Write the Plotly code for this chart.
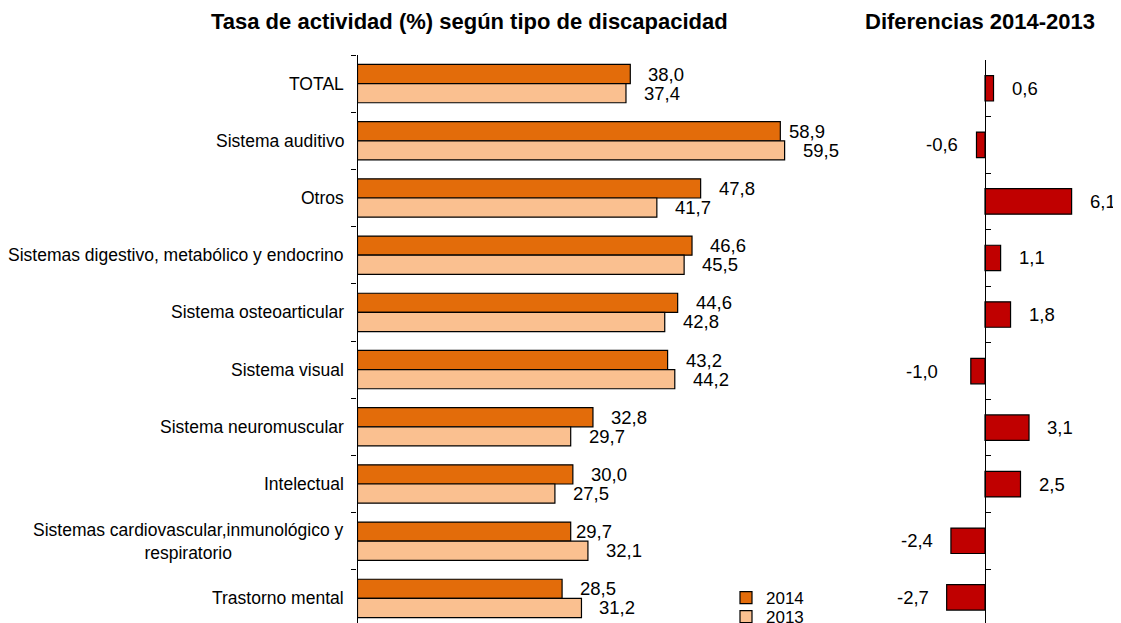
import plotly.graph_objects as go

# ---------- datos ----------
categorias = [
    "TOTAL",
    "Sistema auditivo",
    "Otros",
    "Sistemas digestivo, metabólico y endocrino",
    "Sistema osteoarticular",
    "Sistema visual",
    "Sistema neuromuscular",
    "Intelectual",
    "Sistemas cardiovascular,inmunológico y<br>respiratorio",
    "Trastorno mental",
]
tasa_2014 = [38.0, 58.9, 47.8, 46.6, 44.6, 43.2, 32.8, 30.0, 29.7, 28.5]
tasa_2013 = [37.4, 59.5, 41.7, 45.5, 42.8, 44.2, 29.7, 27.5, 32.1, 31.2]
diferencia = [0.6, -0.6, 6.1, 1.1, 1.8, -1.0, 3.1, 2.5, -2.4, -2.7]

# ---------- estilo ----------
COLORS = {
    'c2014': '#E36C0A',
    'c2013': '#FAC090',
    'dif': '#C00000',
    'line': '#000000',
    'text': '#000000',
}
FONT = 'Liberation Sans, Arial, sans-serif'

# la pagina tiene 8 px de margen en el body: se trabaja en pixeles de pagina
OFF = 8
W, H = 1121 - OFF, 623 - OFF


def px(x):
    return (x - OFF) / W


def py(y):
    return 1 - (y - OFF) / H


ROW_L = 57.2        # alto de cada categoria, panel izquierdo
ROW_R = 56.56       # alto de cada categoria, panel derecho
BARGAP = 0.33
SUB = (1 - BARGAP) / 4 * ROW_L   # desplazamiento vertical de cada barra del grupo

# separacion (px) de cada etiqueta respecto al final de la barra
LABEL_GAP = 16
LABEL_GAP_EXTRA = {(1, '2014'): 7, (8, '2014'): 3}
DIF_GAP = 16
DIF_GAP_EXTRA = {5: 31}

fig = go.Figure()

fig.add_trace(go.Bar(
    y=categorias, x=tasa_2014, orientation='h', name='2014', legend='legend',
    marker=dict(color=COLORS['c2014'], line=dict(color=COLORS['line'], width=1.2)),
    cliponaxis=False, xaxis='x', yaxis='y',
))
fig.add_trace(go.Bar(
    y=categorias, x=tasa_2013, orientation='h', name='2013', legend='legend2',
    marker=dict(color=COLORS['c2013'], line=dict(color=COLORS['line'], width=1.2)),
    cliponaxis=False, xaxis='x', yaxis='y',
))
fig.add_trace(go.Bar(
    y=categorias, x=diferencia, orientation='h', name='Diferencia',
    width=0.45, showlegend=False,
    marker=dict(color=COLORS['dif'], line=dict(color=COLORS['line'], width=1.2)),
    cliponaxis=False, xaxis='x2', yaxis='y2',
))

annotations = []
# etiquetas de categorias
for cat in categorias:
    annotations.append(dict(
        x=px(357.5), xref='paper', y=cat, yref='y',
        text=cat, showarrow=False, xanchor='right', yanchor='middle',
        xshift=-12, align='center',
        font=dict(size=17.5, color=COLORS['text'], family=FONT),
    ))
# valores de las barras 2014 / 2013
for i, cat in enumerate(categorias):
    for serie, vals, dy in (('2014', tasa_2014, SUB), ('2013', tasa_2013, -SUB)):
        annotations.append(dict(
            x=vals[i], xref='x', y=cat, yref='y',
            text=f"{vals[i]:.1f}".replace('.', ','), showarrow=False,
            xanchor='left', yanchor='middle',
            xshift=LABEL_GAP_EXTRA.get((i, serie), LABEL_GAP), yshift=dy,
            font=dict(size=18.5, color=COLORS['text'], family=FONT),
        ))
# etiquetas de diferencias
for i, (cat, d) in enumerate(zip(categorias, diferencia)):
    gap = DIF_GAP_EXTRA.get(i, DIF_GAP)
    annotations.append(dict(
        x=d, xref='x2', y=cat, yref='y2',
        text=f"{d:.1f}".replace('.', ','), showarrow=False,
        xanchor='left' if d >= 0 else 'right', yanchor='middle',
        xshift=gap if d >= 0 else -gap,
        font=dict(size=18.5, color=COLORS['text'], family=FONT),
    ))
# titulos
annotations.append(dict(
    x=px(469), y=py(22), xref='paper', yref='paper',
    text='<b>Tasa de actividad (%) según tipo de discapacidad</b>',
    showarrow=False, xanchor='center', yanchor='middle',
    font=dict(size=22, color=COLORS['text'], family=FONT),
))
annotations.append(dict(
    x=px(980), y=py(22), xref='paper', yref='paper',
    text='<b>Diferencias 2014-2013</b>',
    showarrow=False, xanchor='center', yanchor='middle',
    font=dict(size=22, color=COLORS['text'], family=FONT),
))

legend_style = dict(
    xanchor='left', yanchor='middle', bgcolor='rgba(0,0,0,0)',
    font=dict(size=17, family=FONT, color=COLORS['text']),
)

fig.update_layout(
    width=W, height=H,
    margin=dict(l=0, r=0, t=0, b=0, autoexpand=False),
    paper_bgcolor='white', plot_bgcolor='white',
    separators=',.',
    barmode='group', bargap=BARGAP, bargroupgap=0,
    font=dict(family=FONT, color=COLORS['text']),
    showlegend=True,
    legend=dict(x=px(726), y=py(598), **legend_style),
    legend2=dict(x=px(726), y=py(617), **legend_style),
    annotations=annotations,
    # panel izquierdo
    xaxis=dict(
        domain=[px(357.5), px(860)], range=[0, 70],
        showgrid=False, zeroline=False, showline=False, showticklabels=False,
    ),
    yaxis=dict(
        domain=[0, py(55)], anchor='x',
        type='category', range=[(623 - 55) / ROW_L - 0.5, -0.5],
        showline=True, linecolor=COLORS['line'], linewidth=1.2,
        ticks='outside', ticklen=5, tickcolor=COLORS['line'], tickwidth=1.2,
        tickson='boundaries', showticklabels=False, showgrid=False,
    ),
    # panel derecho
    xaxis2=dict(
        domain=[px(935.3), px(1091.5)], range=[-3.5, 7.5], anchor='y2',
        showgrid=False, zeroline=False, showline=False, showticklabels=False,
    ),
    yaxis2=dict(
        domain=[0, py(60)], anchor='free', position=px(985),
        type='category', range=[(623 - 60) / ROW_R - 0.5, -0.5],
        showline=True, linecolor=COLORS['line'], linewidth=1.2,
        ticks='inside', ticklen=5, tickcolor=COLORS['line'], tickwidth=1.2,
        tickson='boundaries', showticklabels=False, showgrid=False,
    ),
)

fig.write_html("out.html")
